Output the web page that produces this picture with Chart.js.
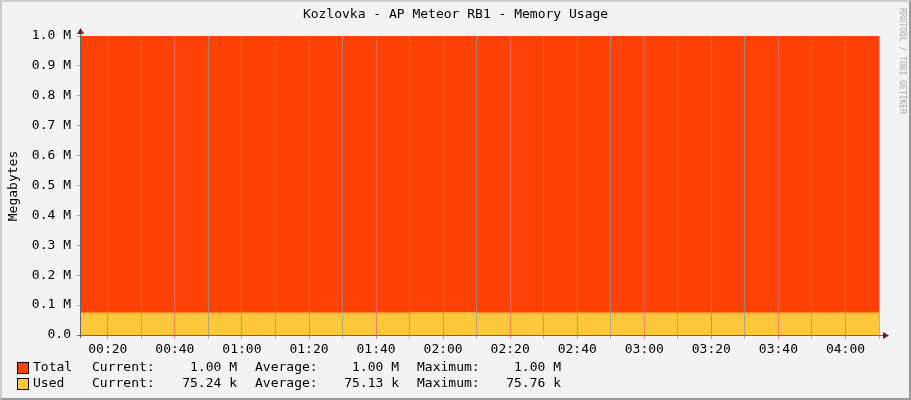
<!DOCTYPE html>
<html><head><meta charset="utf-8">
<script src="https://cdn.jsdelivr.net/npm/chart.js@4.4.0/dist/chart.umd.min.js"></script>
<style>
html,body{margin:0;padding:0;background:#f3f3f3;}
#wrap{position:relative;width:911px;height:400px;background:#f3f3f3;overflow:hidden;font-family:"DejaVu Sans Mono",monospace;font-size:13px;color:#000;}
#frame{position:absolute;left:0;top:0;width:907px;height:396px;border-left:2px solid #ccc;border-top:2px solid #ccc;border-right:2px solid #999;border-bottom:2px solid #999;pointer-events:none;}
canvas{position:absolute;left:0;top:0;}
.t{position:absolute;white-space:pre;}
.sw{position:absolute;width:10px;height:10px;border:1px solid #000;}
</style></head><body>
<div id="wrap">
<canvas id="c" width="911" height="400"></canvas>
<div class="t" style="left:0;width:911px;top:6px;text-align:center;">Kozlovka - AP Meteor RB1 - Memory Usage</div>
<div class="t" style="left:12px;top:186px;transform:translate(-50%,-50%) rotate(-90deg);position:absolute;">Megabytes</div>
<div class="t" style="left:902px;top:8px;font-size:8px;color:#aaa;transform-origin:0 0;transform:translate(5px,0) rotate(90deg);">RRDTOOL / TOBI OETIKER</div>
<div id="legend"></div>
<div id="frame"></div>
</div>
<script>
const times = [12, 30, 50, 70, 90, 110, 130, 150, 170, 190, 210, 230, 250];
const totalValues = [1000000,1000000,1000000,1000000,1000000,1000000,1000000,1000000,1000000,1000000,1000000,1000000,1000000];
const usedValues = [75000, 75100, 75300, 74900, 75000, 75760, 75100, 75000, 75200, 74950, 75100, 75200, 75240];
const seriesNames = ["Total", "Used"];
const seriesColors = ["#ff4105", "#ffc73b"];
const yTickLabels = ["0.0","0.1 M","0.2 M","0.3 M","0.4 M","0.5 M","0.6 M","0.7 M","0.8 M","0.9 M","1.0 M"];
const legendRows = [
  ["Total","1.00 M","1.00 M","1.00 M"],
  ["Used","75.24 k","75.13 k","75.76 k"]
];

// legend
const lg = document.getElementById('legend');
legendRows.forEach((r,i)=>{
  const y = 361 + i*16;
  lg.insertAdjacentHTML('beforeend',
    `<div class="sw" style="left:17px;top:${y+1}px;background:${seriesColors[i]}"></div>`+
    `<div class="t" style="left:33px;top:${y-2}px">${r[0]}</div>`+
    `<div class="t" style="left:92px;top:${y-2}px">Current:</div>`+
    `<div class="t" style="left:150px;width:87px;text-align:right;top:${y-2}px">${r[1]}</div>`+
    `<div class="t" style="left:255px;top:${y-2}px">Average:</div>`+
    `<div class="t" style="left:313px;width:86px;text-align:right;top:${y-2}px">${r[2]}</div>`+
    `<div class="t" style="left:417px;top:${y-2}px">Maximum:</div>`+
    `<div class="t" style="left:475px;width:86px;text-align:right;top:${y-2}px">${r[3]}</div>`);
});

function fmt(m){const h=Math.floor(m/60),mm=m%60;return String(h).padStart(2,'0')+':'+String(mm).padStart(2,'0');}

const axisPlugin = {
  id:'axisArrows',
  afterDatasetsDraw(chart){
    const {ctx, chartArea:a} = chart;
    ctx.save();
    ctx.strokeStyle='#666'; ctx.lineWidth=1;
    ctx.beginPath();
    ctx.moveTo(a.left-0.5, a.bottom+3); ctx.lineTo(a.left-0.5, a.top-4);
    ctx.moveTo(a.left-4, a.bottom+0.5); ctx.lineTo(a.right+6, a.bottom+0.5);
    ctx.stroke();
    ctx.fillStyle='#7a1a1a';
    ctx.beginPath(); ctx.moveTo(a.left-4,a.top-2); ctx.lineTo(a.left+3,a.top-2); ctx.lineTo(a.left-0.5,a.top-8); ctx.fill();
    ctx.beginPath(); ctx.moveTo(a.right+4,a.bottom-3); ctx.lineTo(a.right+4,a.bottom+4); ctx.lineTo(a.right+10,a.bottom+0.5); ctx.fill();
    ctx.restore();
  }
};

new Chart(document.getElementById('c'), {
  type:'line',
  data:{
    labels: times,
    datasets:[
      {label:seriesNames[1], data: times.map((t,i)=>({x:t,y:usedValues[i]})), backgroundColor:seriesColors[1], fill:'origin', stepped:true, borderWidth:0, pointRadius:0},
      {label:seriesNames[0], data: times.map((t,i)=>({x:t,y:totalValues[i]})), backgroundColor:seriesColors[0], fill:'origin', stepped:true, borderWidth:0, pointRadius:0}
    ]
  },
  options:{
    responsive:false, animation:false,
    layout:{padding:{left:0,top:36,right:32,bottom:35}},
    plugins:{legend:{display:false},tooltip:{enabled:false}},
    scales:{
      x:{type:'linear', min:12, max:250,
        afterFit(s){s.height=30;},
        afterBuildTicks(s){s.ticks=[];for(let v=20;v<=250;v+=10)s.ticks.push({value:v});},
        border:{display:false},
        grid:{z:1, drawTicks:true, tickLength:4,
          color:c=>(c.tick && c.tick.value%20===0)?'rgba(235,110,110,0.8)':'rgba(150,150,150,0.7)',
          borderDash:[1,2]},
        ticks:{font:{family:'DejaVu Sans Mono',size:13}, color:'#000', maxRotation:0, autoSkip:false,
          callback:v=>v%20===0?fmt(v):''}
      },
      y:{min:0,max:1000000,
        afterFit(s){s.width=81;},
        afterBuildTicks(s){s.ticks=yTickLabels.map((_,i)=>({value:i*100000}));},
        border:{display:false},
        grid:{drawOnChartArea:false, tickLength:4, color:'rgba(235,110,110,0.8)'},
        ticks:{font:{family:'DejaVu Sans Mono',size:13}, color:'#000', padding:6,
          callback:(v)=>yTickLabels[Math.round(v/100000)]}
      }
    }
  },
  plugins:[axisPlugin]
});
</script>
</body></html>
